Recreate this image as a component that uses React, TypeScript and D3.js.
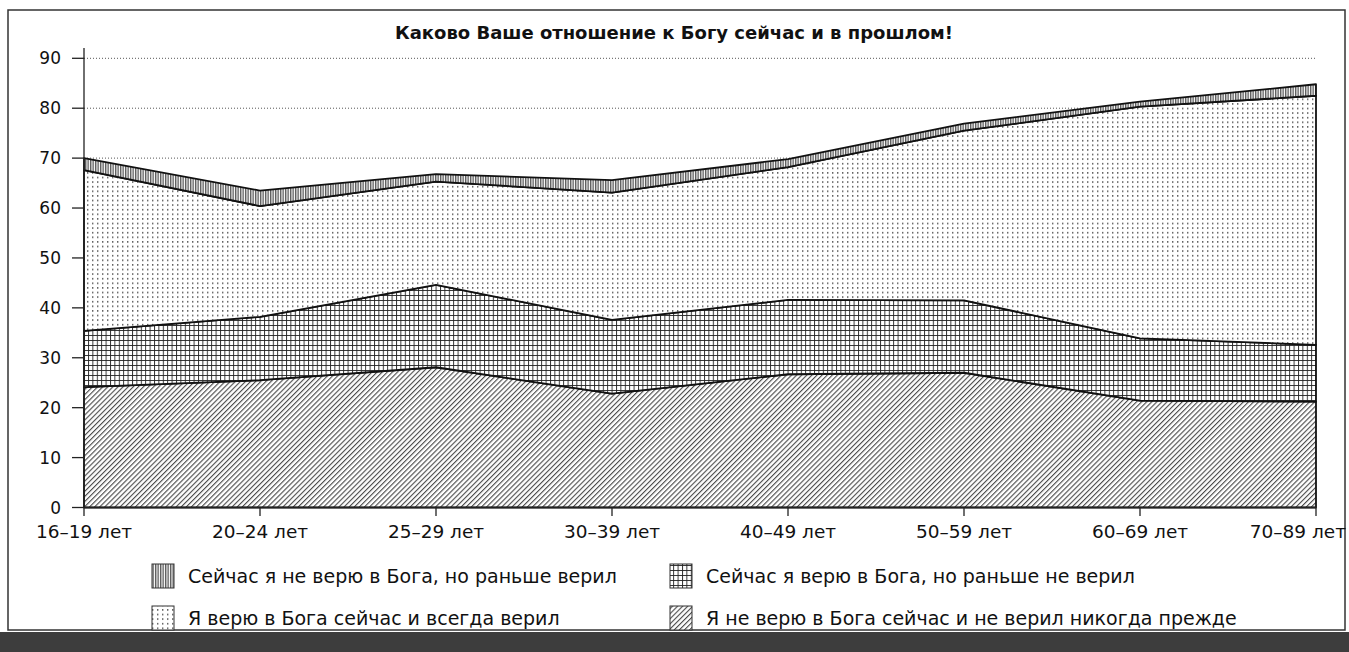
import React from "react";
import * as d3 from "d3";

const categories = ["16–19 лет", "20–24 лет", "25–29 лет", "30–39 лет", "40–49 лет", "50–59 лет", "60–69 лет", "70–89 лет"];
const neverBelieved = [24.1, 25.5, 28.1, 22.8, 26.7, 27.0, 21.4, 21.2];
const nowButNotBefore = [11.3, 12.7, 16.5, 14.8, 14.9, 14.5, 12.5, 11.4];
const alwaysBelieved = [32.2, 22.2, 20.7, 25.5, 26.6, 34.0, 46.4, 49.9];
const notNowButBefore = [2.4, 3.1, 1.5, 2.5, 1.6, 1.4, 1.0, 2.3];
const yTicks = [0, 10, 20, 30, 40, 50, 60, 70, 80, 90];
const title = "Каково Ваше отношение к Богу сейчас и в прошлом!";
const seriesKeys = ["never", "nowNot", "always", "notNow"];
const seriesLabels: Record<string, string> = {
  notNow: "Сейчас я не верю в Бога, но раньше верил",
  nowNot: "Сейчас я верю в Бога, но раньше не верил",
  always: "Я верю в Бога сейчас и всегда верил",
  never: "Я не верю в Бога сейчас и не верил никогда прежде",
};
const patternIds: Record<string, string> = {
  never: "pat-diag",
  nowNot: "pat-grid",
  always: "pat-dots",
  notNow: "pat-vert",
};

const W = 1349;
const H = 652;
const FONT = "'DejaVu Sans', Verdana, sans-serif";

export default function App() {
  const rows = categories.map((c, i) => ({
    cat: c,
    never: neverBelieved[i],
    nowNot: nowButNotBefore[i],
    always: alwaysBelieved[i],
    notNow: notNowButBefore[i],
  }));
  const stack = d3.stack<any>().keys(seriesKeys)(rows);

  const x = d3.scalePoint<string>().domain(categories).range([84, 1316]);
  const y = d3.scaleLinear().domain([0, 90]).range([507.5, 58.3]);

  const area = d3
    .area<any>()
    .x((d) => x(d.data.cat) as number)
    .y0((d) => y(d[0]))
    .y1((d) => y(d[1]));

  const legendItems = [
    { key: "notNow", lx: 152, ly: 564 },
    { key: "nowNot", lx: 670, ly: 564 },
    { key: "always", lx: 152, ly: 606 },
    { key: "never", lx: 670, ly: 606 },
  ];

  return (
    <svg
      width={W}
      height={H}
      style={{ position: "absolute", left: 0, top: 0, background: "#fff" }}
      fontFamily={FONT}
    >
      <defs>
        <pattern id="pat-vert" width={2.5} height={4} patternUnits="userSpaceOnUse">
          <rect width={2.5} height={4} fill="#fff" />
          <line x1={0.7} y1={0} x2={0.7} y2={4} stroke="#444" strokeWidth={1.2} />
        </pattern>
        <pattern id="pat-dots" width={5} height={4.6} patternUnits="userSpaceOnUse">
          <rect width={5} height={4.6} fill="#fff" />
          <rect x={2} y={2} width={1.4} height={1.4} fill="#444" />
        </pattern>
        <pattern id="pat-grid" width={4.4} height={5} patternUnits="userSpaceOnUse">
          <rect width={4.4} height={5} fill="#fff" />
          <line x1={0.5} y1={0} x2={0.5} y2={5} stroke="#222" strokeWidth={0.9} />
          <line x1={0} y1={0.5} x2={4.4} y2={0.5} stroke="#222" strokeWidth={0.9} />
        </pattern>
        <pattern
          id="pat-diag"
          width={3.6}
          height={10}
          patternUnits="userSpaceOnUse"
          patternTransform="rotate(45)"
        >
          <rect width={3.6} height={10} fill="#fff" />
          <line x1={0.6} y1={0} x2={0.6} y2={10} stroke="#333" strokeWidth={1} />
        </pattern>
      </defs>

      {/* frame */}
      <rect x={8} y={10} width={1337} height={620} fill="#fff" stroke="#333" strokeWidth={1.5} />
      <rect x={0} y={632} width={W} height={20} fill="#3d3d3d" />

      <text x={674} y={39} textAnchor="middle" fontSize={18} fontWeight="bold" fill="#111">
        {title}
      </text>

      {/* gridlines */}
      {yTicks
        .filter((t) => t > 0)
        .map((t) => (
          <line
            key={"g" + t}
            x1={84}
            x2={1316}
            y1={y(t)}
            y2={y(t)}
            stroke="#555"
            strokeWidth={1}
            strokeDasharray="1,2"
          />
        ))}

      {/* areas */}
      {stack.map((s) => (
        <path
          key={s.key}
          d={area(s) as string}
          fill={`url(#${patternIds[s.key]})`}
          stroke="#111"
          strokeWidth={1.8}
          strokeLinejoin="round"
        />
      ))}

      {/* y axis */}
      <line x1={84} x2={84} y1={48} y2={507.5} stroke="#222" strokeWidth={1.3} />
      {yTicks.map((t) => (
        <g key={"yt" + t}>
          <line x1={72} x2={84} y1={y(t)} y2={y(t)} stroke="#222" strokeWidth={1.3} />
          <text x={61} y={y(t)} dy="0.36em" textAnchor="end" fontSize={17} fill="#111">
            {t}
          </text>
        </g>
      ))}

      {/* x axis */}
      <line x1={84} x2={1316} y1={507.5} y2={507.5} stroke="#222" strokeWidth={1.3} />
      {categories.map((c, i) => {
        const cx = x(c) as number;
        const last = i === categories.length - 1;
        return (
          <g key={"xt" + c}>
            <line x1={cx} x2={cx} y1={507.5} y2={516} stroke="#222" strokeWidth={1.3} />
            <text
              x={last ? 1346 : cx}
              y={538}
              textAnchor={last ? "end" : "middle"}
              fontSize={18.5}
              fill="#111"
            >
              {c}
            </text>
          </g>
        );
      })}

      {/* legend */}
      {legendItems.map((it) => (
        <g key={"lg" + it.key}>
          <rect
            x={it.lx}
            y={it.ly}
            width={22}
            height={24}
            fill={`url(#${patternIds[it.key]})`}
            stroke="#333"
            strokeWidth={1}
          />
          <text x={it.lx + 36} y={it.ly + 19} fontSize={19} fill="#111">
            {seriesLabels[it.key]}
          </text>
        </g>
      ))}
    </svg>
  );
}
